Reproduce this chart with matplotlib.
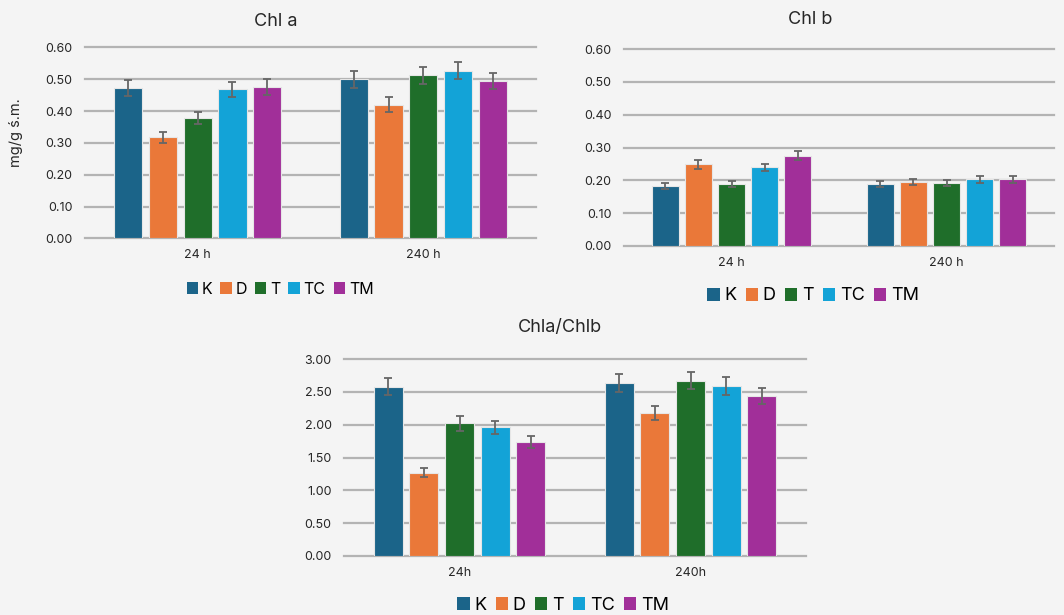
import matplotlib.pyplot as plt
from matplotlib.patches import Patch
import numpy as np

plt.rcParams['font.family'] = ['Inter', 'DejaVu Sans']

# treatments and sampling times
series = ['K', 'D', 'T', 'TC', 'TM']
colors = ['#1b6489', '#ea7839', '#1f6e2a', '#13a3d7', '#a12f99']
times_ab = ['24 h', '240 h']
times_ratio = ['24h', '240h']

# chlorophyll a, mg/g s.m.
chla_24 = [0.472, 0.317, 0.379, 0.468, 0.476]
chla_240 = [0.500, 0.420, 0.513, 0.527, 0.496]
chla_err_24 = [0.026, 0.016, 0.018, 0.025, 0.026]
chla_err_240 = [0.026, 0.024, 0.027, 0.027, 0.025]

# chlorophyll b, mg/g s.m.
chlb_24 = [0.184, 0.249, 0.189, 0.240, 0.275]
chlb_240 = [0.190, 0.195, 0.192, 0.203, 0.203]
chlb_err_24 = [0.009, 0.013, 0.008, 0.011, 0.013]
chlb_err_240 = [0.009, 0.009, 0.009, 0.011, 0.011]

# chl a / chl b ratio
ratio_24 = [2.58, 1.27, 2.02, 1.96, 1.74]
ratio_240 = [2.64, 2.18, 2.67, 2.59, 2.44]
ratio_err_24 = [0.135, 0.07, 0.11, 0.095, 0.09]
ratio_err_240 = [0.135, 0.11, 0.13, 0.135, 0.12]

W, H = 1064, 615
bg = '#f4f4f4'
grid_c = '#b3b3b3'


def panel(rect, v24, v240, e24, e240, ymax, step, cats):
    l, t, r, b = rect
    ax = fig.add_axes([l / W, 1 - b / H, (r - l) / W, (b - t) / H])
    ax.set_facecolor('none')
    x = np.arange(2)
    for i, s in enumerate(series):
        off = (i - 2) * 0.154
        ax.bar(x + off, [v24[i], v240[i]], 0.125, color=colors[i],
               edgecolor='#e6e6e6', linewidth=0.8, zorder=3)
        ax.errorbar(x + off, [v24[i], v240[i]], yerr=[e24[i], e240[i]],
                    fmt='none', ecolor='#666666', elinewidth=1.3,
                    capsize=3.2, capthick=1.3, zorder=4)
    ax.set_xlim(-0.5, 1.5)
    ax.set_ylim(0, ymax)
    ticks = np.arange(0, ymax + step / 2, step)
    ax.set_yticks(ticks)
    ax.set_yticklabels(['%.2f' % v for v in ticks])
    ax.set_xticks(x)
    ax.set_xticklabels(cats)
    for sp in ax.spines.values():
        sp.set_visible(False)
    ax.tick_params(length=0, labelsize=9, colors='#262626')
    ax.tick_params(axis='y', pad=9)
    ax.tick_params(axis='x', pad=8)
    ax.grid(axis='y', color=grid_c, linewidth=1.6, zorder=0)
    ax.set_axisbelow(True)
    for gl in ax.get_ygridlines():
        gl.set_clip_on(False)
    return ax


def legend(cx, cy, size):
    handles = [Patch(facecolor=c, edgecolor='none') for c in colors]
    fig.legend(handles, series, loc='center', bbox_to_anchor=(cx / W, 1 - cy / H),
               ncol=5, frameon=False, fontsize=size, handlelength=0.7,
               handleheight=0.7, handletextpad=0.25, columnspacing=0.5)


fig = plt.figure(figsize=(W / 100, H / 100), dpi=100, facecolor=bg)

panel((85, 47.5, 536, 238.3), chla_24, chla_240, chla_err_24, chla_err_240,
      0.6, 0.1, times_ab)
fig.text(276 / W, 1 - 21 / H, 'Chl a', ha='center', va='center', fontsize=13, color='#262626')
fig.text(16 / W, 1 - 133 / H, 'mg/g ś.m.', ha='center', va='center', rotation=90,
         fontsize=10.5, color='#262626')
legend(280, 289, 11.5)

panel((624, 49, 1054, 246), chlb_24, chlb_240, chlb_err_24, chlb_err_240,
      0.6, 0.1, times_ab)
fig.text(810 / W, 1 - 19 / H, 'Chl b', ha='center', va='center', fontsize=13, color='#262626')
legend(813, 296, 13)

panel((344, 359, 806, 556), ratio_24, ratio_240, ratio_err_24, ratio_err_240,
      3.0, 0.5, times_ratio)
fig.text(560 / W, 1 - 327 / H, 'Chla/Chlb', ha='center', va='center', fontsize=13, color='#262626')
legend(563, 605, 13)

fig.savefig('out.png', dpi=100, facecolor=bg)
